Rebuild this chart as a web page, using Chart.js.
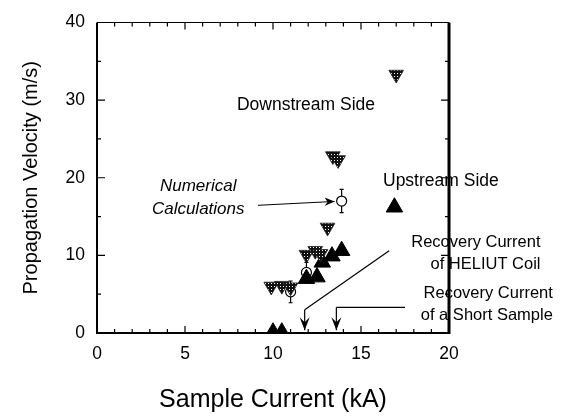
<!DOCTYPE html>
<html><head><meta charset="utf-8">
<script src="https://cdn.jsdelivr.net/npm/chart.js@4"></script>
<style>html,body{margin:0;padding:0;background:#fff}</style>
</head><body>
<canvas id="c" width="586" height="418" style="width:586px;height:418px;display:block"></canvas>
<script>
// ---- data ----
const xTicks = [0, 5, 10, 15, 20];
const yTicks = [0, 10, 20, 30, 40];
const downstreamX = [9.9, 10.5, 11.0, 11.9, 12.4, 12.7, 13.1, 13.4, 13.7, 17.0];
const downstreamY = [6.0, 6.1, 5.9, 10.1, 10.6, 10.2, 13.6, 22.8, 22.3, 33.3];
const upstreamX = [10.0, 10.5, 11.9, 12.5, 12.8, 13.35, 13.9, 16.9];
const upstreamY = [0.1, 0.1, 7.0, 7.2, 9.1, 9.9, 10.6, 16.2];
const numericalX = [11.0, 11.9, 13.9];
const numericalY = [5.3, 7.8, 17.0];
const numericalErr = [1.4, 1.3, 1.5];
const recoveryCoil = 11.8;
const recoveryShort = 13.6;

const FONT = "'Liberation Sans', Arial, Helvetica, sans-serif";

function pts(xs, ys){ return xs.map((x,i)=>({x:x, y:ys[i]})); }

// dotted "grape" pattern for downstream markers
const pc = document.createElement('canvas'); pc.width = 3; pc.height = 3;
const pctx = pc.getContext('2d');
pctx.fillStyle = '#111'; pctx.fillRect(0,0,3,3);
pctx.fillStyle = '#fff'; pctx.fillRect(1,1,1,1);
const ctx0 = document.getElementById('c').getContext('2d');
const grape = ctx0.createPattern(pc, 'repeat');

const deco = {
  id: 'deco',
  beforeDatasetsDraw(chart){
    const {ctx} = chart; const xs = chart.scales.x, ys = chart.scales.y;
    ctx.save(); ctx.strokeStyle = '#000'; ctx.lineWidth = 1.2;
    numericalX.forEach((x,i)=>{
      const px = xs.getPixelForValue(x);
      const t = ys.getPixelForValue(numericalY[i] + numericalErr[i]);
      const b = ys.getPixelForValue(numericalY[i] - numericalErr[i]);
      ctx.beginPath(); ctx.moveTo(px, t); ctx.lineTo(px, b);
      ctx.moveTo(px-2, t); ctx.lineTo(px+2, t);
      ctx.moveTo(px-2, b); ctx.lineTo(px+2, b); ctx.stroke();
    });
    ctx.restore();
  },
  afterDraw(chart){
    const {ctx, chartArea:a} = chart; const xs = chart.scales.x, ys = chart.scales.y;
    const X = v=>xs.getPixelForValue(v), Y = v=>ys.getPixelForValue(v);
    ctx.save();
    ctx.strokeStyle = '#000';
    // frame
    ctx.lineWidth = 2; ctx.beginPath(); ctx.moveTo(a.left, a.top); ctx.lineTo(a.left, a.bottom); ctx.lineTo(a.right, a.bottom); ctx.stroke();
    ctx.lineWidth = 1; ctx.beginPath(); ctx.moveTo(a.left, a.top); ctx.lineTo(a.right, a.top); ctx.stroke();
    ctx.lineWidth = 3; ctx.beginPath(); ctx.moveTo(a.right, a.top); ctx.lineTo(a.right, a.bottom+1); ctx.stroke();
    // inward ticks
    ctx.lineWidth = 1.2; ctx.beginPath();
    for (let v = 1; v < 20; v++){
      const l = (v % 5 === 0) ? 7 : 4; const p = X(v);
      ctx.moveTo(p, a.bottom); ctx.lineTo(p, a.bottom - l);
      ctx.moveTo(p, a.top); ctx.lineTo(p, a.top + l);
    }
    for (let v = 5; v < 40; v += 5){
      const l = (v % 10 === 0) ? 8 : 4; const p = Y(v);
      ctx.moveTo(a.left, p); ctx.lineTo(a.left + l, p);
      ctx.moveTo(a.right, p); ctx.lineTo(a.right - l, p);
    }
    ctx.stroke();
    // annotations
    ctx.fillStyle = '#000'; ctx.textBaseline = 'middle';
    ctx.font = '17.5px ' + FONT; ctx.textAlign = 'left';
    ctx.fillText('Downstream Side', X(7.95), Y(29.4));
    ctx.fillText('Upstream Side', X(16.25), Y(19.5));
    ctx.font = 'italic 17px ' + FONT; ctx.textAlign = 'center';
    ctx.fillText('Numerical', X(5.75), Y(18.85));
    ctx.fillText('Calculations', X(5.75), Y(15.9));
    ctx.font = '16.5px ' + FONT; ctx.textAlign = 'right';
    ctx.fillText('Recovery Current', X(25.2), Y(11.7));
    ctx.fillText('of HELIUT Coil', X(25.2), Y(8.85));
    ctx.fillText('Recovery Current', X(25.9), Y(5.15));
    ctx.fillText('of a Short Sample', X(25.9), Y(2.2));
    // arrow to numerical calculation
    ctx.lineWidth = 1;
    const ax0 = X(9.15), ay0 = Y(16.45), ax1 = X(13.5), ay1 = Y(16.95);
    ctx.beginPath(); ctx.moveTo(ax0, ay0); ctx.lineTo(ax1, ay1); ctx.stroke();
    ctx.beginPath(); ctx.moveTo(ax1, ay1); ctx.lineTo(ax1-10, ay1-4); ctx.lineTo(ax1-7, ay1+0.5); ctx.lineTo(ax1-10, ay1+4.5); ctx.closePath(); ctx.fill();
    // recovery current arrows
    function downArrow(x, yTop){
      const px = X(x), pt = Y(yTop), pb = Y(0.35);
      ctx.beginPath(); ctx.moveTo(px, pt); ctx.lineTo(px, pb); ctx.stroke();
      ctx.beginPath(); ctx.moveTo(px, pb); ctx.lineTo(px-5, pb-13); ctx.lineTo(px, pb-8); ctx.lineTo(px+5, pb-13); ctx.closePath(); ctx.fill();
    }
    ctx.lineWidth = 1.2;
    ctx.beginPath(); ctx.moveTo(X(16.6), Y(10.6)); ctx.lineTo(X(recoveryCoil), Y(3.0)); ctx.stroke();
    downArrow(recoveryCoil, 3.0);
    ctx.beginPath(); ctx.moveTo(X(recoveryShort), Y(3.3)); ctx.lineTo(X(17.5), Y(3.3)); ctx.stroke();
    downArrow(recoveryShort, 3.3);
    ctx.restore();
  }
};

new Chart(ctx0, {
  type: 'scatter',
  data: { datasets: [
    { label: 'Downstream Side', data: pts(downstreamX, downstreamY), pointStyle: 'triangle', rotation: 180,
      pointRadius: 8.5, pointHoverRadius: 8.5, backgroundColor: grape, borderColor: '#222', borderWidth: 0.8 },
    { label: 'Upstream Side', data: pts(upstreamX, upstreamY), pointStyle: 'triangle',
      pointRadius: 9.5, pointHoverRadius: 9.5, backgroundColor: '#000', borderColor: '#000', borderWidth: 1 },
    { label: 'Numerical Calculations', data: pts(numericalX, numericalY), pointStyle: 'circle',
      pointRadius: 5, pointHoverRadius: 5, backgroundColor: '#fff', borderColor: '#000', borderWidth: 1.2 }
  ]},
  options: {
    responsive: false, animation: false, devicePixelRatio: 1,
    layout: { padding: { top: 21, right: 137, left: 0, bottom: 0 } },
    plugins: { legend: { display: false }, tooltip: { enabled: false } },
    scales: {
      x: { type: 'linear', min: 0, max: 20,
        afterFit(s){ s.height = 85; },
        afterBuildTicks(s){ s.ticks = xTicks.map(v=>({value:v})); },
        grid: { display: false, drawTicks: false }, border: { display: false },
        ticks: { padding: 11, color: '#000', font: { family: FONT, size: 17.5 }, maxRotation: 0 },
        title: { display: true, text: 'Sample Current (kA)', color: '#000', font: { family: FONT, size: 25 }, padding: { top: 0, bottom: 3 } }
      },
      y: { type: 'linear', min: 0, max: 40,
        afterFit(s){ s.width = 97; },
        afterBuildTicks(s){ s.ticks = yTicks.map(v=>({value:v})); },
        grid: { display: false, drawTicks: false }, border: { display: false },
        ticks: { padding: 12, color: '#000', font: { family: FONT, size: 17.5 } },
        title: { display: true, text: 'Propagation Velocity (m/s)', color: '#000', font: { family: FONT, size: 20 }, padding: { top: 19, bottom: 0 } }
      }
    }
  },
  plugins: [deco]
});
</script>
</body></html>
